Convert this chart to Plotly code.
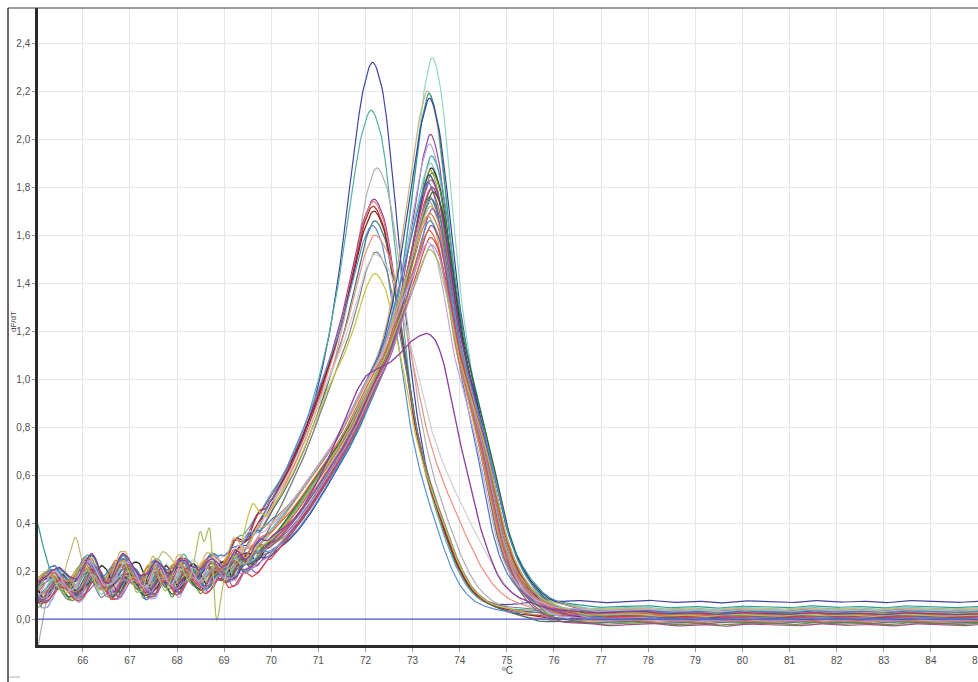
import numpy as np
import plotly.graph_objects as go

# ---------------------------------------------------------------
# Melt-curve derivative data (dF/dT vs temperature)
# ---------------------------------------------------------------

# Typical profile of the low-Tm population (offset from Tm, value)
prof_a_u = [-9.0, -7.0, -5.0, -4.0, -3.2, -2.6, -2.0, -1.6, -1.3, -1.0, -0.7, -0.4, -0.2,
            0.0, 0.2, 0.4, 0.6, 0.85, 1.1, 1.3, 1.6, 1.8, 2.1, 2.4, 2.8, 3.3, 4.5, 13.0]
prof_a_y = [0.15, 0.15, 0.17, 0.19, 0.22, 0.34, 0.53, 0.69, 0.84, 1.01, 1.20, 1.45, 1.62,
            1.70, 1.63, 1.43, 1.17, 0.84, 0.62, 0.49, 0.32, 0.22, 0.12, 0.07, 0.04, 0.02, 0.01, 0.01]
prof_a_peak = 1.70
core_a_u = [-9.0, -2.0, -1.4, -1.0, -0.7, -0.4, -0.2, 0.0, 0.2, 0.4, 0.6, 0.9, 1.2, 1.6, 13.0]
core_a_y = [0.0, 0.0, 0.02, 0.15, 0.42, 0.78, 0.94, 1.0, 0.94, 0.76, 0.50, 0.20, 0.05, 0.0, 0.0]

# Typical profile of the high-Tm population
prof_b_u = [-9.0, -8.0, -6.0, -5.0, -4.4, -3.9, -3.4, -3.0, -2.35, -1.7, -1.3, -0.9, -0.6, -0.3,
            -0.15, 0.0, 0.15, 0.3, 0.57, 0.8, 1.04, 1.25, 1.46, 1.7, 1.95, 2.3, 2.6, 3.2, 4.5, 12.0]
prof_b_y = [0.15, 0.15, 0.17, 0.18, 0.20, 0.24, 0.31, 0.39, 0.57, 0.78, 0.95, 1.12, 1.34, 1.60,
            1.73, 1.80, 1.74, 1.58, 1.20, 0.98, 0.78, 0.58, 0.38, 0.23, 0.14, 0.07, 0.04, 0.015, 0.01, 0.01]
prof_b_peak = 1.80
core_b_u = [-9.0, -1.4, -1.0, -0.7, -0.45, -0.2, 0.0, 0.2, 0.45, 0.7, 1.0, 1.4, 12.0]
core_b_y = [0.0, 0.0, 0.05, 0.20, 0.50, 0.88, 1.0, 0.88, 0.55, 0.25, 0.07, 0.0, 0.0]

# Low-Tm wells
heights_a = [2.32, 2.12, 1.88, 1.75, 1.74, 1.72, 1.70, 1.66, 1.64, 1.60, 1.53, 1.52, 1.44]
tm_a = [72.15, 72.12, 72.24, 72.18, 72.17, 72.16, 72.18, 72.20, 72.15, 72.20, 72.22, 72.20, 72.20]
lstretch_a = [1.0, 1.02, 0.95, 1.05, 0.98, 1.0, 1.04, 0.96, 1.06, 1.0, 0.94, 1.02, 0.97]
stretch_a = [1.0, 1.0, 1.05, 1.0, 1.0, 1.0, 1.0, 1.0, 0.92, 1.25, 1.0, 1.4, 1.0]
tail_a = [0.062, 0.02, -0.01, 0.0, -0.02, 0.01, -0.01, -0.025, 0.015, -0.005, 0.025, -0.03, 0.005]
colors_a = ['#4444a0', '#4fb0a0', '#b0b0b0', '#9c3d8c', '#e08080', '#b03030', '#8b2020',
            '#3e7272', '#5a8fd0', '#f09080', '#808080', '#cfcfcf', '#c8c040']

# High-Tm wells
heights_b = [2.34, 2.20, 2.19, 2.17, 2.02, 1.98, 1.93, 1.90, 1.88, 1.87, 1.86, 1.85, 1.83, 1.82,
             1.80, 1.79, 1.78, 1.76, 1.75, 1.74, 1.72, 1.71, 1.69, 1.68, 1.66, 1.64, 1.62, 1.59,
             1.57, 1.56, 1.54]
tm_b = [73.42, 73.32, 73.35, 73.36, 73.38, 73.36, 73.40, 73.38, 73.40, 73.37, 73.42, 73.35,
        73.39, 73.33, 73.41, 73.38, 73.44, 73.36, 73.40, 73.34, 73.38, 73.42, 73.37, 73.32,
        73.36, 73.40, 73.35, 73.38, 73.33, 73.40, 73.36]
lstretch_b = [1.0, 1.08, 0.94, 1.1, 0.97, 1.05, 0.92, 1.12, 1.0, 0.95, 1.07, 0.9, 1.03, 1.1,
              0.96, 1.0, 1.09, 0.93, 1.05, 0.98, 1.12, 0.95, 1.02, 1.08, 0.91, 1.0, 1.06, 0.94,
              1.1, 0.97, 1.03]
stretch_b = [1.0, 1.05, 1.0, 1.08, 0.95, 1.0, 1.1, 1.0, 1.05, 0.95, 1.0, 1.12, 1.0, 0.92,
             1.05, 1.0, 1.08, 0.96, 1.0, 1.1, 1.0, 0.94, 1.05, 1.0, 1.12, 0.98, 1.0, 1.06,
             0.95, 1.0, 1.08]
tail_b = [0.03, 0.01, 0.04, -0.01, 0.0, -0.02, 0.02, 0.035, -0.01, 0.005, -0.03, 0.015, -0.005,
          0.025, -0.015, 0.01, 0.0, -0.025, 0.02, -0.01, 0.03, 0.005, -0.02, 0.015, -0.005,
          -0.035, 0.01, 0.0, 0.025, -0.015, 0.005]
colors_b = ['#93d8c8', '#c8b478', '#2f9c8c', '#34469c', '#8c4c9c', '#b4a8d8', '#3fa6a6',
            '#7ec8c0', '#202020', '#a8a838', '#5c9c3c', '#3c3c8c', '#c04090', '#4a78c0',
            '#7a3a9a', '#d05050', '#306030', '#707070', '#2c8c8c', '#aaaaaa', '#d8b060',
            '#9060b0', '#c87840', '#c8a070', '#5090d0', '#a05080', '#e06a3a', '#e04040',
            '#c0a8d8', '#b090c8', '#a8c060']

# Well with a double-peak (shoulder) profile
double_t = [65.05, 69.0, 69.5, 70.0, 70.5, 71.0, 71.5, 71.87, 72.05, 72.24, 72.45, 72.7, 72.93,
            73.15, 73.3, 73.45, 73.64, 73.8, 73.93, 74.1, 74.27, 74.57, 74.91, 75.33, 75.8,
            76.5, 85.0]
double_y = [0.15, 0.20, 0.24, 0.32, 0.42, 0.58, 0.80, 0.97, 1.02, 1.04, 1.06, 1.10, 1.15,
            1.18, 1.19, 1.17, 1.08, 0.93, 0.80, 0.66, 0.51, 0.30, 0.15, 0.08, 0.05, 0.03, 0.02]

# Low-temperature oscillations of the signal (two components)
ripple_t = [round(64.8 + 0.1 * k, 1) for k in range(55)]
ripple_v = [0.00, -0.02, -0.04, -0.04, -0.02, 0.00, 0.02, 0.02, 0.00, -0.02, -0.03, -0.02,
            0.01, 0.04, 0.05, 0.03, 0.00, -0.03, -0.03, -0.01, 0.02, 0.04, 0.04, 0.02, -0.01,
            -0.03, -0.03, 0.00, 0.03, 0.02, -0.01, -0.03, -0.01, 0.02, 0.03, 0.01, -0.01, -0.03,
            -0.02, 0.01, 0.02, 0.01, -0.02, -0.02, 0.00, 0.02, 0.01, -0.01, -0.01, 0.00, 0.01,
            0.00, 0.00, 0.00, 0.00]
ripple2_v = [0.00, 0.01, 0.02, 0.01, -0.01, -0.02, -0.01, 0.01, 0.02, 0.02, 0.00, -0.02,
             -0.02, 0.00, 0.02, 0.01, -0.01, -0.02, 0.00, 0.02, 0.02, 0.00, -0.02, -0.01, 0.01,
             0.02, 0.01, -0.01, -0.02, -0.01, 0.01, 0.02, 0.00, -0.02, -0.02, 0.00, 0.02, 0.02,
             0.00, -0.01, -0.02, 0.00, 0.01, 0.02, 0.01, -0.01, -0.02, -0.01, 0.01, 0.01, 0.00,
             -0.01, 0.00, 0.00, 0.00]
ripple_phase = [0.0, 0.08, -0.06, 0.12, -0.1, 0.04, -0.03, 0.15, -0.14, 0.05, 0.1, -0.18, 0.2]
ripple_amp = [1.1, 1.4, 0.9, 1.6, 1.0, 1.3, 0.8, 1.2, 1.5, 0.9]
ripple2_amp = [0.4, -0.6, 0.7, 0.0, -0.4, 0.8, 0.5, -0.7, 0.2]
low_shift = [0.0, 0.03, -0.03, 0.015, -0.02, 0.04, -0.01, 0.02, -0.04, 0.01, -0.025]

# Small plateau wobble above the melt
tail_t = [74.5 + 0.5 * k for k in range(23)]
tail_v = [0.0, 0.0, 0.004, -0.003, 0.005, -0.004, 0.002, 0.006, -0.003, 0.003, -0.005, 0.004,
          0.0, -0.004, 0.005, -0.002, 0.003, -0.004, 0.005, 0.0, -0.003, 0.002, 0.0]

# Weights: where the plateau level and the pre-melt spread apply
tailw_t = [65.0, 74.3, 76.0, 85.0]
tailw_v = [0.0, 0.0, 1.0, 1.0]
loww_t = [65.0, 69.6, 70.6, 85.0]
loww_v = [1.0, 1.0, 0.0, 0.0]

# Individual excursions of a few wells before the melt: (group, index) -> (temps, deltas)
excursions = {
    ('b', 2): ([65.05, 65.2, 65.35, 65.5], [0.24, 0.10, 0.0, 0.0]),
    ('b', 19): ([65.05, 65.2, 65.4, 65.6], [-0.22, -0.08, 0.0, 0.0]),
    ('a', 12): ([65.5, 65.7, 65.87, 66.05, 66.3, 69.3, 69.45, 69.6, 69.75, 69.9],
                [0.0, -0.07, -0.12, -0.06, 0.0, 0.0, 0.08, 0.12, 0.06, 0.0]),
    ('b', 1): ([65.55, 65.7, 65.85, 66.0, 66.15, 67.3, 67.5, 67.8, 68.1, 68.3],
               [0.0, 0.12, 0.22, 0.10, 0.0, 0.0, 0.08, 0.10, 0.07, 0.0]),
    ('b', 30): ([68.25, 68.48, 68.58, 68.69, 68.84, 68.98, 69.15],
                [0.0, 0.19, 0.10, 0.15, -0.17, -0.03, 0.0]),
    ('b', 13): ([67.15, 67.38, 67.6], [0.0, -0.12, 0.0]),
    ('a', 2): ([66.4, 66.6, 66.8], [0.0, 0.10, 0.0]),
}

x_ticks = list(range(66, 86))
y_ticks = [0.0, 0.2, 0.4, 0.6, 0.8, 1.0, 1.2, 1.4, 1.6, 1.8, 2.0, 2.2, 2.4]
y_ticktext = ['0,0', '0,2', '0,4', '0,6', '0,8', '1,0', '1,2', '1,4', '1,6', '1,8', '2,0', '2,2', '2,4']


def pchip(xq, xs, ys):
    """Monotone piecewise cubic Hermite interpolation."""
    xs = np.asarray(xs, float)
    ys = np.asarray(ys, float)
    h = np.diff(xs)
    d = np.diff(ys) / h
    m = np.zeros_like(ys)
    m[0], m[-1] = d[0], d[-1]
    for k in range(1, len(ys) - 1):
        if d[k - 1] * d[k] > 0:
            w1 = 2 * h[k] + h[k - 1]
            w2 = h[k] + 2 * h[k - 1]
            m[k] = (w1 + w2) / (w1 / d[k - 1] + w2 / d[k])
    xq = np.clip(np.asarray(xq, float), xs[0], xs[-1])
    i = np.clip(np.searchsorted(xs, xq) - 1, 0, len(xs) - 2)
    t = (xq - xs[i]) / h[i]
    h00 = 2 * t**3 - 3 * t**2 + 1
    h10 = t**3 - 2 * t**2 + t
    h01 = -2 * t**3 + 3 * t**2
    h11 = t**3 - t**2
    return h00 * ys[i] + h10 * h[i] * m[i] + h01 * ys[i + 1] + h11 * h[i] * m[i + 1]


temp = np.linspace(65.05, 85.0, 800)
w_tail = pchip(temp, tailw_t, tailw_v)
w_low = pchip(temp, loww_t, loww_v)


def segment(et, ev):
    out = np.zeros_like(temp)
    inside = (temp >= et[0]) & (temp <= et[-1])
    out[inside] = pchip(temp[inside], et, ev)
    return out


def noise_terms(k, tail_level):
    ph = ripple_phase[k % len(ripple_phase)]
    y = ripple_amp[k % len(ripple_amp)] * pchip(temp + ph, ripple_t, ripple_v)
    y += ripple2_amp[k % len(ripple2_amp)] * pchip(temp - ph, ripple_t, ripple2_v)
    y += low_shift[k % len(low_shift)] * w_low
    y += tail_level * w_tail
    y += pchip(temp + 2 * ph, tail_t, tail_v)
    return y


def well_curve(h, tm, lst, rst, tail_level, k, pu, py, peak, cu, cy, key):
    u = temp - tm
    u = np.where(u > 0, u / rst, u / lst)
    y = pchip(u, pu, py) + (h - peak) * pchip(u, cu, cy)
    y += noise_terms(k, tail_level)
    if key in excursions:
        y += segment(*excursions[key])
    return y


fig = go.Figure()

for k in range(len(heights_a)):
    y = well_curve(heights_a[k], tm_a[k], lstretch_a[k], stretch_a[k], tail_a[k], k,
                   prof_a_u, prof_a_y, prof_a_peak, core_a_u, core_a_y, ('a', k))
    fig.add_trace(go.Scatter(x=temp, y=y, mode='lines',
                             line=dict(color=colors_a[k], width=1.2)))

for k in range(len(heights_b)):
    y = well_curve(heights_b[k], tm_b[k], lstretch_b[k], stretch_b[k], tail_b[k], k + 3,
                   prof_b_u, prof_b_y, prof_b_peak, core_b_u, core_b_y, ('b', k))
    fig.add_trace(go.Scatter(x=temp, y=y, mode='lines',
                             line=dict(color=colors_b[k], width=1.2)))

y_double = pchip(temp, double_t, double_y) + noise_terms(5, 0.0)
fig.add_trace(go.Scatter(x=temp, y=y_double, mode='lines',
                         line=dict(color='#8a3c9a', width=1.3)))

# Zero reference line
fig.add_shape(type='line', xref='paper', yref='y', x0=0, x1=1, y0=0, y1=0,
              line=dict(color='#4a55c0', width=1.3), layer='above')

# Outer frame
fx = -30 / 940
fig.add_shape(type='line', xref='paper', yref='paper', x0=fx, x1=1, y0=1, y1=1,
              line=dict(color='#3a3a3a', width=1))
fig.add_shape(type='line', xref='paper', yref='paper', x0=fx, x1=fx, y0=1, y1=-37 / 637,
              line=dict(color='#3a3a3a', width=1.5))
fig.add_shape(type='line', xref='paper', yref='paper', x0=fx + 1.5 / 940, x1=-18 / 940,
              y0=-32 / 637, y1=-32 / 637, line=dict(color='#c8c8c8', width=1.5))

axis_font = dict(family='Liberation Sans, Arial, sans-serif', size=10, color='#505050')

fig.add_annotation(text='dF/dT', xref='paper', yref='paper', x=-25 / 940, y=(645 - 322) / 637,
                   xanchor='center', yanchor='middle', textangle=-90, showarrow=False,
                   font=dict(family='Liberation Sans, Arial, sans-serif', size=8, color='#444444'))
fig.add_annotation(text='ºC', xref='paper', yref='paper', x=(507 - 38) / 940, y=-25 / 637,
                   xanchor='center', yanchor='middle', showarrow=False,
                   font=dict(family='Liberation Sans, Arial, sans-serif', size=10, color='#444444'))
# Last temperature label sits on the right edge of the canvas
fig.add_annotation(text='85', xref='paper', yref='paper', x=1, y=-15 / 637,
                   xanchor='center', yanchor='middle', showarrow=False, font=axis_font)

fig.update_layout(
    width=978, height=682,
    margin=dict(l=38, r=0, t=8, b=37),
    paper_bgcolor='white', plot_bgcolor='white',
    showlegend=False, hovermode=False,
    xaxis=dict(range=[65.05, 85.0], tickvals=x_ticks, ticktext=[str(v) for v in x_ticks],
               showgrid=True, gridcolor='#e6e6e6', gridwidth=1, zeroline=False,
               showline=True, linecolor='#2a2a2a', linewidth=2.5,
               ticks='outside', ticklen=4, tickcolor='#999999', tickfont=axis_font),
    yaxis=dict(range=[-0.108, 2.546], tickvals=y_ticks, ticktext=y_ticktext,
               showgrid=True, gridcolor='#e6e6e6', gridwidth=1, zeroline=False,
               showline=True, linecolor='#2a2a2a', linewidth=2.5,
               ticks='outside', ticklen=3, tickcolor='#999999', tickfont=axis_font),
)

fig.write_html('out.html')
